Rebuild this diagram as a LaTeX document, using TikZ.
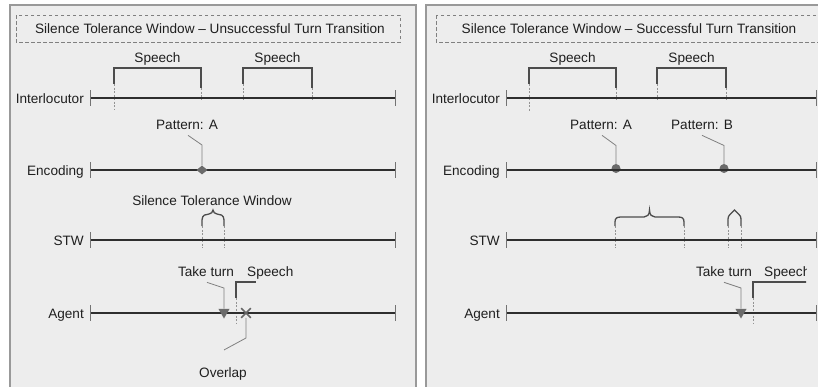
\documentclass[tikz,border=0pt]{standalone}
\usepackage{fontspec}
\setmainfont{Liberation Sans}
\usetikzlibrary{shapes.geometric,shapes.misc}
\tikzset{
 panel/.style={draw=black!40, line width=1.4pt, fill=black!7},
 titlebox/.style={draw=black!50, line width=1pt, dash pattern=on 3.5pt off 2.5pt},
 axisline/.style={draw=black!82, line width=1.8pt},
 endtick/.style={draw=black!55, line width=1pt},
 bracket/.style={draw=black!70, line width=1.3pt},
 guide/.style={draw=black!42, line width=0.9pt, dash pattern=on 2pt off 1.5pt},
 pointer/.style={draw=black!50, line width=0.8pt},
 lbl/.style={text=black!88, inner sep=0pt},
 markfill/.style={fill=black!58, draw=none, inner sep=0pt},
}
\begin{document}
\begin{tikzpicture}[x=1pt,y=-1pt,font=\fontsize{13.6}{16}\selectfont]
\fill[white] (0,0) rectangle (818,386);
\useasboundingbox (0,0) rectangle (818,386);
% panels
\path[panel] (10,5) rectangle (416,395);
\path[panel] (426,5) rectangle (830,395);
% titles
\draw[titlebox] (16,15) rectangle (400,42);
\node[lbl, anchor=base] (LT) at (210,33) {Silence Tolerance Window – Unsuccessful Turn Transition};
\draw[titlebox] (436,15) rectangle (830,42);
\node[lbl, anchor=base] (RT) at (629,33) {Silence Tolerance Window – Successful Turn Transition};

% ---------- guides (dashed verticals) ----------
% left panel
\draw[guide] (114,84) -- (114,109);
\draw[guide] (201,88) -- (201,100);
\draw[guide] (243,84) -- (243,100);
\draw[guide] (312,88) -- (312,100);
\draw[guide] (202,226) -- (202,248);
\draw[guide] (224,226) -- (224,248);
\draw[guide] (236,298) -- (236,323);
% right panel
\draw[guide] (529,84) -- (529,112);
\draw[guide] (616,88) -- (616,100);
\draw[guide] (657,84) -- (657,100);
\draw[guide] (726,88) -- (726,100);
\draw[guide] (615,226) -- (615,248);
\draw[guide] (684,226) -- (684,248);
\draw[guide] (728,226) -- (728,248);
\draw[guide] (741,226) -- (741,248);
\draw[guide] (753,298) -- (753,323);

% ---------- speech brackets ----------
\draw[bracket] (114,84) -- (114,68) -- (201,68) -- (201,88);
\draw[bracket] (243,84) -- (243,68) -- (312,68) -- (312,88);
\node[lbl, anchor=base] (LS1) at (157.5,62) {Speech};
\node[lbl, anchor=base] (LS2) at (277.5,62) {Speech};
\draw[bracket] (529,84) -- (529,68) -- (616,68) -- (616,88);
\draw[bracket] (657,84) -- (657,68) -- (726,68) -- (726,88);
\node[lbl, anchor=base] (RS1) at (572.5,62) {Speech};
\node[lbl, anchor=base] (RS2) at (691.5,62) {Speech};

% ---------- STW braces ----------
\draw[bracket] (202,226) -- (202,220) .. controls (202,215) and (206,214) .. (209,214) .. controls (211,214) and (213,212) .. (213,210) .. controls (213,212) and (215,214) .. (217,214) .. controls (220,214) and (224,215) .. (224,220) -- (224,226);
\node[lbl, anchor=base] (LSTWt) at (212,205) {Silence Tolerance Window};
\draw[bracket] (615,226) -- (615,222) .. controls (615,218) and (617,217) .. (621,217) -- (644,217) .. controls (647,217) and (649.5,215) .. (649.5,210) .. controls (649.5,215) and (652,217) .. (655,217) -- (678,217) .. controls (682,217) and (684,218) .. (684,222) -- (684,226);
\draw[bracket] (728,226) -- (728,219) .. controls (728,215) and (731,214) .. (734.5,210) .. controls (738,214) and (741,215) .. (741,219) -- (741,226);

% ---------- agent speech brackets ----------
\draw[bracket] (236,298) -- (236,282) -- (256,282);
\node[lbl, anchor=base west] (LAS) at (247,276) {Speech};
\begin{scope}
\clip (740,250) rectangle (806,300);
\draw[bracket] (753,298) -- (753,282) -- (810,282);
\node[lbl, anchor=base west] (RAS) at (764,276) {Speech};
\end{scope}

% ---------- encoding markers (domes below axes) ----------
\node[circle, markfill, minimum size=9pt] (RmA) at (616,168.5) {};
\node[circle, markfill, minimum size=9pt] (RmB) at (724,168.5) {};

% ---------- axes ----------
\foreach \p/\a/\b in {L/90/395, R/506/816} {
  \foreach \r/\y/\t in {int/98/Interlocutor, enc/170/Encoding, stw/240/STW, ag/313/Agent} {
    \coordinate (\p\r0) at (\a,\y);
    \coordinate (\p\r1) at (\b,\y);
    \draw[axisline] (\p\r0) -- (\p\r1);
    \draw[endtick] ([yshift=8pt]\p\r0) -- ([yshift=-8pt]\p\r0);
    \draw[endtick] ([yshift=8pt]\p\r1) -- ([yshift=-8pt]\p\r1);
    \node[lbl, anchor=base east] (\p\r lab) at ({\a-6},{\y+5}) {\t};
  }
}

% ---------- patterns ----------
\node[lbl, anchor=base] (LpA) at (187,129) {Pattern: A};
\node[diamond, markfill, minimum width=11pt, minimum height=9pt] (LmA) at (202,170) {};
\draw[pointer] ([xshift=1pt,yshift=-6pt]LpA.south) -- ([yshift=25pt]LmA.center) -- (LmA.north);

\node[lbl, anchor=base] (RpA) at (601,129) {Pattern: A};
\node[lbl, anchor=base] (RpB) at (702,129) {Pattern: B};
\draw[pointer] ([xshift=1pt,yshift=-6pt]RpA.south) -- ([yshift=23pt]RmA.center) -- (RmA.north);
\draw[pointer] ([yshift=-6pt]RpB.south) -- ([yshift=23pt]RmB.center) -- (RmB.north);

% ---------- take turn ----------
\node[lbl, anchor=base] (LTt) at (206,276) {Take turn};
\node[regular polygon, regular polygon sides=3, shape border rotate=180, markfill, minimum size=13pt] (LTri) at (224,312) {};
\draw[pointer] ([xshift=1pt,yshift=-6pt]LTt.south) -- ([yshift=24pt]LTri.center) -- (LTri.north);

\node[lbl, anchor=base] (RTt) at (724,276) {Take turn};
\node[regular polygon, regular polygon sides=3, shape border rotate=180, markfill, minimum size=13pt] (RTri) at (741,312) {};
\draw[pointer] ([yshift=-6pt]RTt.south) -- ([yshift=24pt]RTri.center) -- (RTri.north);

% ---------- overlap ----------
\node[cross out, draw=black!60, line width=1.6pt, minimum size=8pt, inner sep=0pt] (LX) at (246,313) {};
\node[lbl, anchor=base] (LOv) at (223,377) {Overlap};
\draw[pointer] (LX.south) -- ([yshift=-25pt]LX.center) -- ([xshift=1pt,yshift=17pt]LOv.north);
\end{tikzpicture}
\end{document}
